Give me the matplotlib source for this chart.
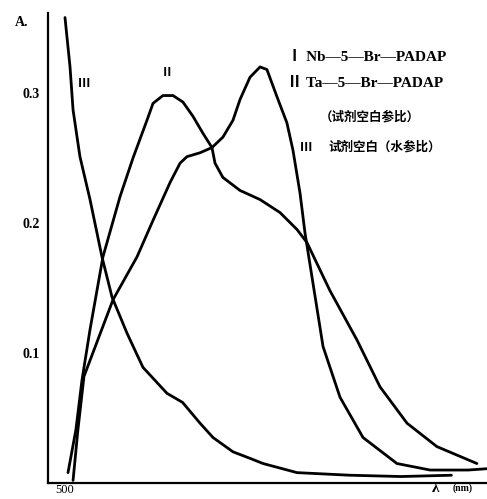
import numpy as np
import matplotlib.pyplot as plt

plt.rcParams['font.family'] = ['Liberation Serif', 'Noto Sans CJK SC', 'DejaVu Sans']

# wavelength (nm) and absorbance
nb_wl = [504.8, 507.7, 511.3, 528.6, 542.9, 552.4, 562.5, 568.5, 572.6, 580.4, 587.5,
         594.0, 600.0, 604.2, 610.1, 616.1, 620.2, 626.2, 632.1, 635.7, 639.9, 642.9,
         653.6, 663.7, 677.4, 697.6, 717.3, 740.0, 751.0]
nb_abs = [0.002, 0.041, 0.082, 0.141, 0.174, 0.202, 0.231, 0.246, 0.251, 0.254, 0.258,
          0.266, 0.279, 0.295, 0.312, 0.320, 0.318, 0.297, 0.277, 0.256, 0.223, 0.192,
          0.105, 0.066, 0.035, 0.015, 0.010, 0.010, 0.011]

ta_wl = [501.8, 506.5, 510.1, 514.9, 522.6, 532.7, 540.5, 548.8, 552.4, 558.3, 564.3,
         570.2, 576.2, 582.1, 587.5, 589.3, 594.0, 604.2, 616.1, 628.0, 638.1, 644.0,
         657.7, 673.8, 687.5, 703.6, 721.4, 745.2]
ta_abs = [0.008, 0.041, 0.079, 0.118, 0.174, 0.220, 0.250, 0.279, 0.292, 0.298, 0.298,
          0.293, 0.282, 0.269, 0.258, 0.246, 0.235, 0.225, 0.218, 0.208, 0.195, 0.185,
          0.148, 0.110, 0.074, 0.046, 0.028, 0.015]

blank_wl = [500.0, 503.0, 504.8, 508.9, 514.9, 522.0, 528.0, 537.0, 546.4, 560.7, 570.0,
            580.4, 588.1, 600.0, 610.1, 617.9, 638.1, 669.6, 700.0, 730.0]
blank_abs = [0.358, 0.320, 0.287, 0.251, 0.218, 0.174, 0.143, 0.115, 0.089, 0.069, 0.062,
             0.046, 0.035, 0.024, 0.019, 0.015, 0.008, 0.006, 0.005, 0.006]

y_ticks = [0.1, 0.2, 0.3]
y_labels = ['0.1', '0.2', '0.3']

fig = plt.figure(figsize=(4.87, 4.99), dpi=100)
ax = fig.add_axes([0.0986, 0.032, 0.9014, 0.942])

for wl, a in [(nb_wl, nb_abs), (ta_wl, ta_abs), (blank_wl, blank_abs)]:
    ax.plot(wl, a, color='black', lw=2.0, solid_capstyle='round', solid_joinstyle='round')

ax.set_xlim(489.9, 751.2)
ax.set_ylim(0, 0.3615)
ax.spines['top'].set_visible(False)
ax.spines['right'].set_visible(False)
ax.spines['left'].set_linewidth(1.6)
ax.spines['bottom'].set_linewidth(1.6)

ax.set_yticks(y_ticks)
ax.set_yticklabels(y_labels, fontsize=10, fontweight='bold')
ax.set_xticks([500])
ax.set_xticklabels(['500'], fontsize=9)
ax.tick_params(axis='y', length=0, pad=6)
ax.tick_params(axis='x', length=0, pad=1)

# axis titles
fig.text(0.031, 0.955, 'A.', fontsize=10, fontweight='bold', va='center')
fig.text(0.887, 0.022, 'λ', fontsize=11, fontweight='bold', va='center')
fig.text(0.93, 0.022, '(nm)', fontsize=7, fontweight='bold', va='center')

# curve markers
ax.text(0.082, 0.85, 'Ⅲ', transform=ax.transAxes, fontsize=9, fontweight='bold',
        family=['Noto Sans CJK SC'], ha='center', va='center')
ax.text(0.271, 0.873, 'Ⅱ', transform=ax.transAxes, fontsize=9, fontweight='bold',
        family=['Noto Sans CJK SC'], ha='center', va='center')

# legend text
ax.text(0.545, 0.906, 'Ⅰ Nb—5—Br—PADAP', transform=ax.transAxes, fontsize=11,
        fontweight='bold', va='center')
ax.text(0.545, 0.850, 'Ⅱ Ta—5—Br—PADAP', transform=ax.transAxes, fontsize=11,
        fontweight='bold', va='center')
ax.text(0.62, 0.778, '（试剂空白参比）', transform=ax.transAxes, fontsize=9,
        fontweight='bold', family=['Noto Sans CJK SC'], va='center')
ax.text(0.573, 0.714, 'Ⅲ', transform=ax.transAxes, fontsize=9, fontweight='bold',
        family=['Noto Sans CJK SC'], va='center')
ax.text(0.638, 0.714, '试剂空白（水参比）', transform=ax.transAxes, fontsize=9,
        fontweight='bold', family=['Noto Sans CJK SC'], va='center')

fig.savefig('out.png', dpi=100)
